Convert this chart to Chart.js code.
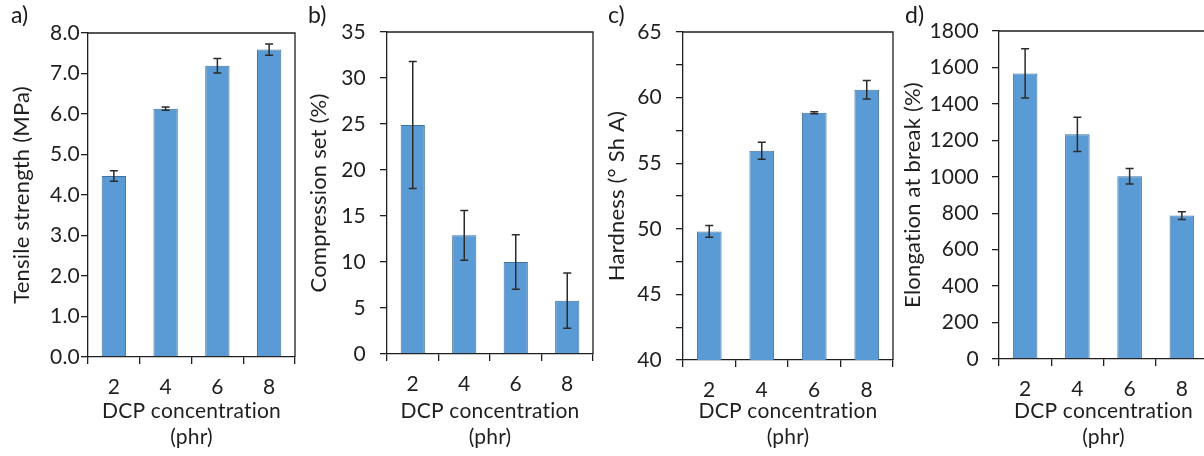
<!DOCTYPE html>
<html>
<head>
<meta charset="utf-8">
<script src="https://cdn.jsdelivr.net/npm/chart.js@4"></script>
<style>
  html, body { margin: 0; padding: 0; background: #fff; overflow: hidden; }
  body { width: 1204px; height: 456px; position: relative; }
  canvas { position: absolute; top: 0; }
  .tag { position: absolute; top: 0px; font: 23px Lato, sans-serif; color: #1a1a1a; }
</style>
</head>
<body>
<canvas id="pa" width="300" height="456" style="left:0px"></canvas>
<canvas id="pb" width="300" height="456" style="left:300px"></canvas>
<canvas id="pc" width="300" height="456" style="left:600px"></canvas>
<canvas id="pd" width="312" height="456" style="left:900px"></canvas>
<div class="tag" style="left:11px">a)</div>
<div class="tag" style="left:308px">b)</div>
<div class="tag" style="left:608px">c)</div>
<div class="tag" style="left:905px">d)</div>
<script>
// DCP concentration (phr)
const categories = ['2', '4', '6', '8'];

const tensile = [4.47, 6.13, 7.19, 7.59];
const tensileErr = [0.13, 0.04, 0.18, 0.14];

const compression = [24.9, 12.9, 10.0, 5.8];
const compressionErr = [6.9, 2.7, 2.95, 3.0];

const hardness = [49.8, 55.95, 58.85, 60.6];
const hardnessErr = [0.45, 0.65, 0.08, 0.7];

const elongation = [1567, 1233, 1003, 787];
const elongationErr = [135, 94, 43, 21];

const font = 'Lato';
const ink = '#1f1f1f';

// error bars, drawn through the y scale
const errorBars = {
  id: 'errorBars',
  beforeDraw(chart) {
    // small spacing keeps "ti" from turning into a ligature
    chart.ctx.letterSpacing = '0.2px';
  },
  afterDatasetsDraw(chart) {
    const errs = chart.options.plugins.errorBars.errors;
    const y = chart.scales.y;
    const meta = chart.getDatasetMeta(0);
    const vals = chart.data.datasets[0].data;
    const ctx = chart.ctx;
    ctx.save();
    ctx.strokeStyle = '#2b2b2b';
    ctx.lineWidth = 1.5;
    meta.data.forEach(function(bar, i) {
      const hi = y.getPixelForValue(vals[i] + errs[i]);
      const lo = y.getPixelForValue(vals[i] - errs[i]);
      ctx.beginPath();
      ctx.moveTo(bar.x, hi); ctx.lineTo(bar.x, lo);
      ctx.moveTo(bar.x - 4, hi); ctx.lineTo(bar.x + 4, hi);
      ctx.moveTo(bar.x - 4, lo); ctx.lineTo(bar.x + 4, lo);
      ctx.stroke();
    });
    ctx.restore();
  }
};

// top and right border of the plot area
const frame = {
  id: 'frame',
  afterDraw(chart) {
    const a = chart.chartArea;
    const ctx = chart.ctx;
    ctx.save();
    ctx.strokeStyle = ink;
    ctx.lineWidth = 1.3;
    ctx.beginPath();
    ctx.moveTo(a.left, a.top); ctx.lineTo(a.right, a.top); ctx.lineTo(a.right, a.bottom);
    ctx.stroke();
    ctx.restore();
  }
};

function panel(id, p) {
  const canvas = document.getElementById(id);
  new Chart(canvas, {
    type: 'bar',
    data: {
      labels: categories,
      datasets: [{
        data: p.values,
        backgroundColor: '#5b9bd5',
        borderColor: '#41719c',
        borderWidth: 1,
        barPercentage: 0.47,
        categoryPercentage: 1
      }]
    },
    options: {
      responsive: false,
      animation: false,
      devicePixelRatio: 1,
      layout: { padding: { left: 0, top: p.top, right: canvas.width - p.right, bottom: 0 } },
      plugins: {
        legend: { display: false },
        tooltip: { enabled: false },
        errorBars: { errors: p.errors }
      },
      scales: {
        x: {
          afterFit(s) { s.height = 456 - p.bottom; },
          grid: { drawOnChartArea: false, tickLength: 7, color: ink, lineWidth: 1.3 },
          border: { color: ink, width: 1.3 },
          ticks: { color: ink, padding: 11, font: { family: font, size: 21 } },
          title: {
            display: true,
            text: ['DCP concentration', '(phr)'],
            color: ink,
            padding: { top: 0, bottom: 6 },
            font: { family: font, size: 21, lineHeight: 1.24 }
          }
        },
        y: {
          min: p.min, max: p.max,
          afterFit(s) { s.width = p.left; },
          grid: { drawOnChartArea: false, tickLength: 7, color: ink, lineWidth: 1.3 },
          border: { color: ink, width: 1.3 },
          ticks: {
            stepSize: p.step,
            color: ink,
            padding: p.labelPad,
            font: { family: font, size: 21 },
            callback: p.fmt
          },
          title: {
            display: true,
            text: p.title,
            color: ink,
            padding: { top: p.titlePad, bottom: 0 },
            font: { family: font, size: 22, lineHeight: 1.2 }
          }
        }
      }
    },
    plugins: [errorBars, frame]
  });
}

panel('pa', {
  values: tensile, errors: tensileErr, title: 'Tensile strength (MPa)',
  min: 0, max: 8, step: 1, fmt: v => v.toFixed(1),
  left: 88, right: 295, top: 33, bottom: 357, labelPad: 1, titlePad: 9
});
panel('pb', {
  values: compression, errors: compressionErr, title: 'Compression set (%)',
  min: 0, max: 35, step: 5, fmt: v => v,
  left: 87, right: 293, top: 32, bottom: 354, labelPad: 14, titlePad: 6
});
panel('pc', {
  values: hardness, errors: hardnessErr, title: 'Hardness (° Sh A)',
  min: 40, max: 65, step: 2.5, fmt: v => (v % 5 === 0 ? v : ''),
  left: 83, right: 293, top: 32, bottom: 360, labelPad: 14, titlePad: 4
});
panel('pd', {
  values: elongation, errors: elongationErr, title: 'Elongation at break (%)',
  min: 0, max: 1800, step: 200, fmt: v => v,
  left: 99, right: 308, top: 31, bottom: 359, labelPad: 13, titlePad: 0
});
</script>
</body>
</html>
